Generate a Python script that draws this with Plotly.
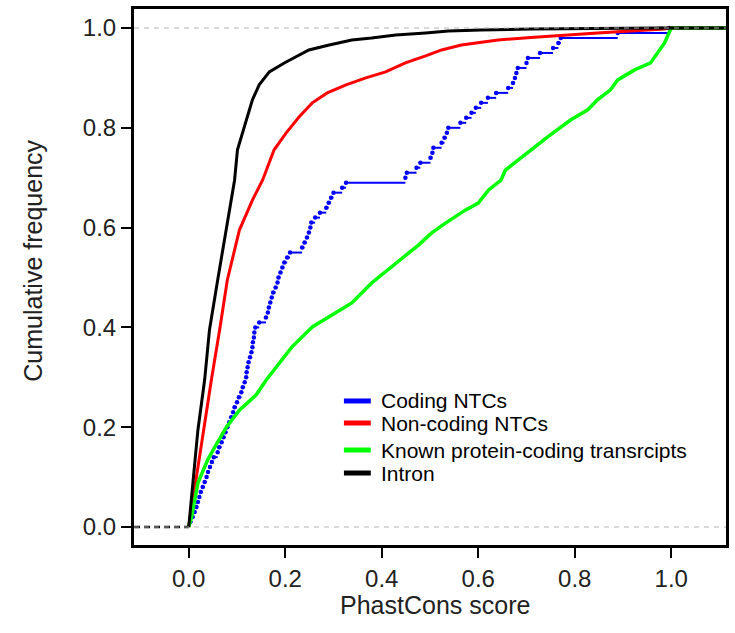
import plotly.graph_objects as go

# ---------------- data ----------------
intron_x = [0, 0.019, 0.033, 0.043, 0.060, 0.078, 0.095, 0.101, 0.122, 0.132, 0.146, 0.167, 0.198,
            0.229, 0.249, 0.291, 0.338, 0.379, 0.429, 0.491, 0.538, 0.606, 0.709, 0.971]
intron_y = [0, 0.194, 0.295, 0.395, 0.495, 0.595, 0.695, 0.756, 0.822, 0.856, 0.886, 0.912, 0.930,
            0.946, 0.956, 0.966, 0.976, 0.980, 0.986, 0.990, 0.994, 0.996, 0.998, 1.0]

noncoding_x = [0, 0.033, 0.047, 0.064, 0.080, 0.105, 0.132, 0.153, 0.177, 0.202, 0.229, 0.256, 0.287,
               0.326, 0.367, 0.408, 0.449, 0.491, 0.524, 0.565, 0.606, 0.641, 0.709, 0.779, 0.847,
               0.915, 0.986, 0.992]
noncoding_y = [0, 0.214, 0.295, 0.395, 0.495, 0.595, 0.655, 0.695, 0.756, 0.790, 0.822, 0.850, 0.870,
               0.886, 0.900, 0.912, 0.930, 0.944, 0.956, 0.966, 0.972, 0.976, 0.981, 0.986, 0.990,
               0.994, 0.998, 1.0]

known_x = [0, 0.006, 0.019, 0.039, 0.054, 0.078, 0.105, 0.140, 0.161, 0.214, 0.256, 0.305, 0.338,
           0.379, 0.429, 0.476, 0.503, 0.532, 0.573, 0.600, 0.621, 0.647, 0.656, 0.682, 0.709,
           0.744, 0.792, 0.827, 0.847, 0.874, 0.889, 0.924, 0.957, 0.971, 0.986, 0.998, 1.0]
known_y = [0, 0.020, 0.088, 0.134, 0.160, 0.200, 0.234, 0.265, 0.295, 0.361, 0.401, 0.429, 0.449,
           0.489, 0.529, 0.565, 0.589, 0.609, 0.635, 0.649, 0.675, 0.695, 0.715, 0.735, 0.756,
           0.782, 0.816, 0.836, 0.856, 0.876, 0.896, 0.916, 0.930, 0.950, 0.970, 0.996, 1.0]

coding_x = [0.003, 0.008, 0.012, 0.016, 0.019, 0.022, 0.025, 0.029, 0.033, 0.037,
            0.040, 0.044, 0.048, 0.052, 0.060, 0.063, 0.068, 0.072, 0.076, 0.080,
            0.084, 0.088, 0.092, 0.095, 0.100, 0.104, 0.109, 0.112, 0.116, 0.119,
            0.120, 0.122, 0.124, 0.127, 0.130, 0.132, 0.133, 0.135, 0.136, 0.138,
            0.146, 0.160, 0.164, 0.166, 0.169, 0.172, 0.175, 0.180, 0.184, 0.186,
            0.190, 0.194, 0.198, 0.204, 0.210, 0.235, 0.240, 0.245, 0.249, 0.252,
            0.254, 0.262, 0.272, 0.285, 0.290, 0.295, 0.300, 0.318, 0.326, 0.449,
            0.452, 0.472, 0.480, 0.501, 0.505, 0.507, 0.524, 0.530, 0.535, 0.538,
            0.563, 0.575, 0.586, 0.595, 0.606, 0.620, 0.637, 0.662, 0.672, 0.676,
            0.679, 0.682, 0.700, 0.703, 0.728, 0.755, 0.766, 0.771, 0.889, 0.996]
coding_y = [0.01, 0.02, 0.03, 0.04, 0.05, 0.06, 0.07, 0.08, 0.09, 0.10,
            0.11, 0.12, 0.13, 0.14, 0.15, 0.16, 0.17, 0.18, 0.19, 0.20,
            0.21, 0.22, 0.23, 0.24, 0.25, 0.26, 0.27, 0.28, 0.29, 0.30,
            0.31, 0.32, 0.33, 0.34, 0.35, 0.36, 0.37, 0.38, 0.39, 0.40,
            0.41, 0.42, 0.43, 0.44, 0.45, 0.46, 0.47, 0.48, 0.49, 0.50,
            0.51, 0.52, 0.53, 0.54, 0.55, 0.56, 0.57, 0.58, 0.59, 0.60,
            0.61, 0.62, 0.63, 0.64, 0.65, 0.66, 0.67, 0.68, 0.69, 0.70,
            0.71, 0.72, 0.73, 0.74, 0.75, 0.76, 0.77, 0.78, 0.79, 0.80,
            0.81, 0.82, 0.83, 0.84, 0.85, 0.86, 0.87, 0.88, 0.89, 0.90,
            0.91, 0.92, 0.93, 0.94, 0.95, 0.96, 0.97, 0.98, 0.99, 1.00]

tick_vals = [0.0, 0.2, 0.4, 0.6, 0.8, 1.0]
tick_text = ["0.0", "0.2", "0.4", "0.6", "0.8", "1.0"]

legend_names = ["Coding NTCs", "Non-coding NTCs", "Known protein-coding transrcipts", "Intron"]
legend_colors = ["#0000FF", "#FF0000", "#00FF00", "#000000"]

# ---------------- figure ----------------
X_LO, X_HI = -0.1134, 1.1134
Y_LO, Y_HI = -0.0361, 1.0381
FONT = "Liberation Sans, Arial, sans-serif"

fig = go.Figure()

# blue step function: horizontal segments + dots (no verticals)
bx, by = [], []
nxt = coding_x[1:] + [X_HI]
for x0, x1, yv in zip(coding_x, nxt, coding_y):
    bx += [x0, x1, None]
    by += [yv, yv, None]
fig.add_trace(go.Scatter(x=bx, y=by, mode="lines", line=dict(color="#0000FF", width=2),
                         showlegend=False, hoverinfo="skip"))
fig.add_trace(go.Scatter(x=coding_x, y=coding_y, mode="markers",
                         marker=dict(color="#0000FF", size=4.5), showlegend=False))

for xs, ys, col, w in [(noncoding_x, noncoding_y, "#FF0000", 3),
                       (known_x, known_y, "#00FF00", 3.5),
                       (intron_x, intron_y, "#000000", 3)]:
    fig.add_trace(go.Scatter(x=xs + [X_HI], y=ys + [ys[-1]], mode="lines",
                             line=dict(color=col, width=w), showlegend=False))

shapes = []
for yv in (0, 1):
    shapes.append(dict(type="line", xref="paper", yref="y", x0=0, x1=1, y0=yv, y1=yv,
                       line=dict(color="#B3B3B3", width=1.2, dash="5px,5px"), layer="above"))

# ecdf extensions beyond the data (black, dashed look over the reference lines)
fig.add_trace(go.Scatter(x=[X_LO, intron_x[0], None, intron_x[-1], X_HI],
                         y=[intron_y[0], intron_y[0], None, intron_y[-1], intron_y[-1]],
                         mode="lines", line=dict(color="#000000", width=2.5, dash="6px,4px"),
                         showlegend=False, hoverinfo="skip"))

# manual legend (positions in paper coordinates)
leg_y = [0.2687, 0.2276, 0.1772, 0.1343]
annotations = []
for name, col, yy in zip(legend_names, legend_colors, leg_y):
    shapes.append(dict(type="line", xref="paper", yref="paper", x0=0.3546, x1=0.4, y0=yy, y1=yy,
                       line=dict(color=col, width=5)))
    annotations.append(dict(text=name, xref="paper", yref="paper", x=0.4134, y=yy,
                            xanchor="left", yanchor="middle", showarrow=False,
                            font=dict(family=FONT, size=21, color="#000000")))

annotations.append(dict(text="PhastCons score", xref="paper", yref="paper", x=0.509, y=-0.112,
                        xanchor="center", yanchor="middle", showarrow=False,
                        font=dict(family=FONT, size=25, color="#222222")))
annotations.append(dict(text="Cumulative frequency", xref="paper", yref="paper", x=-0.17, y=0.531,
                        xanchor="center", yanchor="middle", showarrow=False, textangle=-90,
                        font=dict(family=FONT, size=25, color="#222222")))

axis_common = dict(showline=True, linecolor="#000000", linewidth=3, mirror=True,
                   ticks="outside", ticklen=10, tickwidth=2, tickcolor="#000000",
                   showgrid=False, zeroline=False, tickvals=tick_vals, ticktext=tick_text,
                   tickfont=dict(family=FONT, size=24, color="#222222"))

fig.update_layout(
    width=735, height=633,
    margin=dict(l=134, r=6, t=9, b=88),
    paper_bgcolor="white", plot_bgcolor="white",
    xaxis=dict(range=[X_LO, X_HI], **axis_common),
    yaxis=dict(range=[Y_LO, Y_HI], **axis_common),
    shapes=shapes, annotations=annotations, showlegend=False,
)

fig.write_html("out.html", config={"displayModeBar": False},
               post_script="document.body.style.margin='0';")
